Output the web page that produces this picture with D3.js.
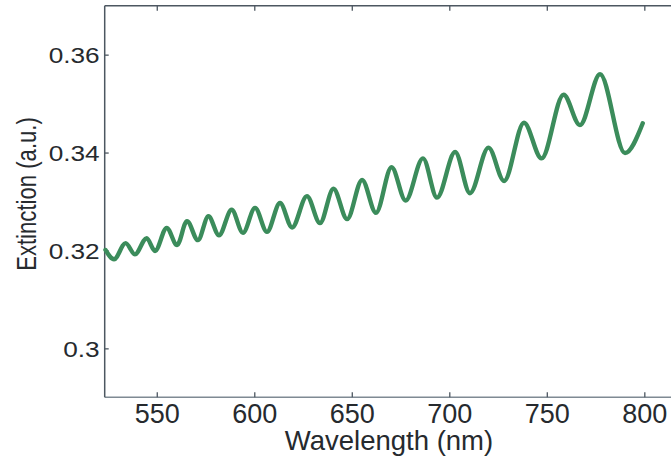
<!DOCTYPE html>
<html><head><meta charset="utf-8">
<script src="https://cdn.jsdelivr.net/npm/d3@7"></script>
<style>html,body{margin:0;padding:0;background:#fff;overflow:hidden}svg{display:block}</style>
</head><body>
<svg id="c" width="671" height="458"></svg>
<script>
// Data (peaks / troughs of the extinction spectrum)
const wavelength = [523.7,528.1,534.0,538.8,544.8,549.1,555.1,560.4,565.5,571.1,
  576.5,581.9,588.4,594.2,600.4,606.5,613.2,619.4,627.0,633.7,
  640.6,647.6,655.3,662.4,670.4,677.6,686.5,693.7,703.0,710.6,
  720.1,728.1,738.3,747.3,758.6,767.0,777.3,790.1,799.2];
const extinction = [0.3201,0.3182,0.3215,0.3192,0.3225,0.3199,0.3246,0.3211,0.3260,0.3221,
  0.3270,0.3231,0.3283,0.3236,0.3287,0.3238,0.3297,0.3247,0.3311,0.3256,
  0.3326,0.3264,0.3344,0.3277,0.3370,0.3302,0.3388,0.3308,0.3401,0.3317,
  0.3410,0.3342,0.3461,0.3388,0.3518,0.3456,0.3560,0.3399,0.3460];
const xTicks = [550,600,650,700,750,800];
const xTickLabels = ["550","600","650","700","750","800"];
const yTicks = [0.30,0.32,0.34,0.36];
const yTickLabels = ["0.3","0.32","0.34","0.36"];
const xTitle = "Wavelength (nm)";
const yTitle = "Extinction (a.u.)";

const svg = d3.select("#c");
const L = 104.7, R = 680, T = 5.7, B = 397.3;
const x = d3.scaleLinear().domain([523.3, 818.3]).range([L, R]);
const y = d3.scaleLinear().domain([0.29, 0.37]).range([B, T]);
const axisColor = "#4d5761";
const textColor = "#262a2e";
const font = "Liberation Sans, Arial, Helvetica, sans-serif";

// frame
svg.append("line").attr("x1",L).attr("x2",R).attr("y1",T).attr("y2",T).attr("stroke",axisColor).attr("stroke-width",1.5);
svg.append("line").attr("x1",L).attr("x2",R).attr("y1",B).attr("y2",B).attr("stroke","#7f8a93").attr("stroke-width",1.5);
svg.append("line").attr("x1",L).attr("x2",L).attr("y1",T).attr("y2",B).attr("stroke",axisColor).attr("stroke-width",1.5);

// bottom axis
const xb = svg.append("g").attr("transform",`translate(0,${B})`)
  .call(d3.axisBottom(x).tickValues(xTicks).tickSize(-5).tickFormat(""));
xb.select(".domain").remove();
xb.selectAll(".tick line").attr("stroke",axisColor).attr("stroke-width",1.3);
xb.selectAll(".tick").append("text")
  .attr("y",26).attr("fill",textColor).attr("text-anchor","middle")
  .style("font-family",font).style("font-size","27px")
  .text((d,i)=>xTickLabels[i]);

// top axis ticks
const xt = svg.append("g").attr("transform",`translate(0,${T})`)
  .call(d3.axisTop(x).tickValues(xTicks).tickSize(-5).tickFormat(""));
xt.select(".domain").remove();
xt.selectAll(".tick line").attr("stroke",axisColor).attr("stroke-width",1.3);

// left axis
const yl = svg.append("g").attr("transform",`translate(${L},0)`)
  .call(d3.axisLeft(y).tickValues(yTicks).tickSize(-4).tickFormat(""));
yl.select(".domain").remove();
yl.selectAll(".tick line").attr("stroke",axisColor).attr("stroke-width",1.3);
yl.selectAll(".tick").append("text")
  .attr("transform","translate(-5,0) scale(1.22,1)")
  .attr("dy","0.36em").attr("fill",textColor).attr("text-anchor","end")
  .style("font-family",font).style("font-size","21.5px")
  .text((d,i)=>yTickLabels[i]);

// titles
svg.append("text").attr("x",389).attr("y",450).attr("text-anchor","middle")
  .attr("fill",textColor).style("font-family",font).style("font-size","27.5px").text(xTitle);
svg.append("text").attr("transform","translate(36,194) rotate(-90) scale(0.82,1)")
  .attr("text-anchor","middle").attr("fill",textColor)
  .style("font-family",font).style("font-size","27px").text(yTitle);

// spectrum line
const pts = wavelength.map((w,i)=>[w, extinction[i]]);
svg.append("path").datum(pts)
  .attr("fill","none").attr("stroke","#3b8c5b").attr("stroke-width",4.4)
  .attr("stroke-linecap","round").attr("stroke-linejoin","round")
  .attr("d", d3.line().x(d=>x(d[0])).y(d=>y(d[1])).curve(d3.curveMonotoneX));
</script>
</body></html>
